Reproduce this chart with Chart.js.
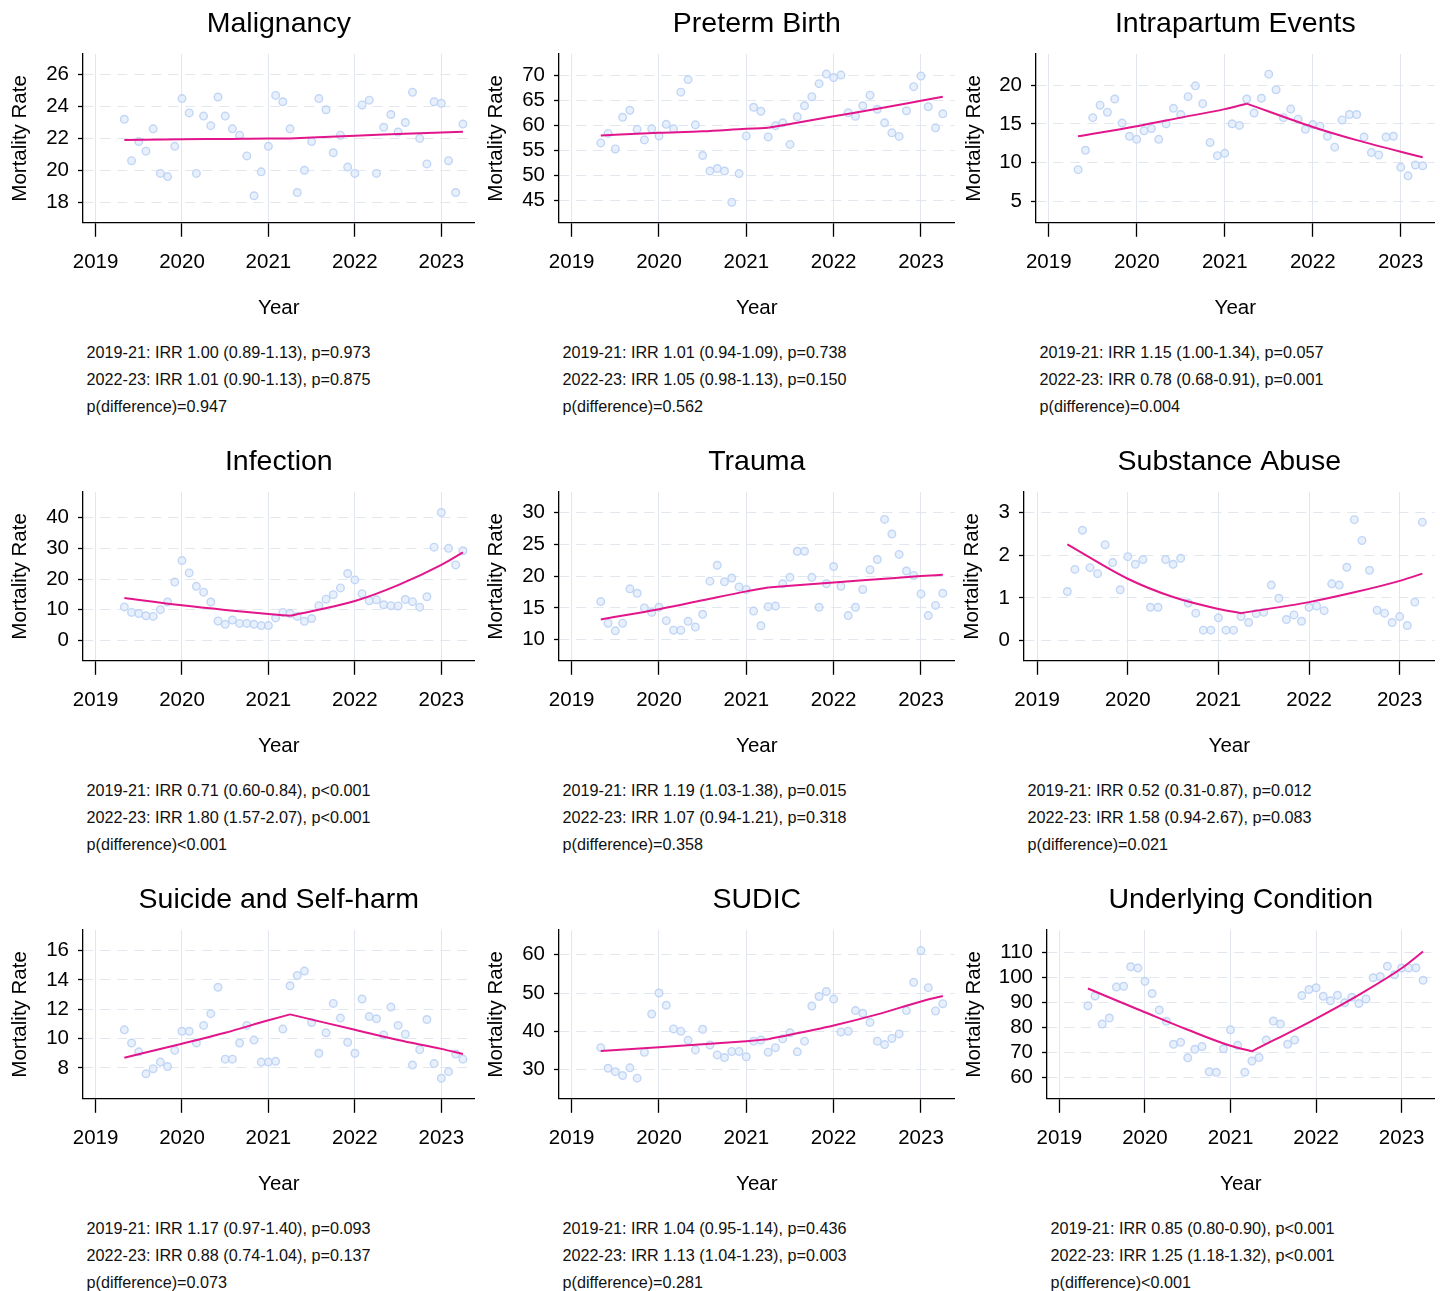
<!DOCTYPE html>
<html>
<head>
<meta charset="utf-8">
<script src="https://cdn.jsdelivr.net/npm/chart.js@4.4.1/dist/chart.umd.min.js"></script>
<style>
html,body{margin:0;padding:0;background:#fff;}
#wrap{position:relative;width:1440px;height:1291px;overflow:hidden;background:#fff;}
#wrap canvas{position:absolute;}
.note{position:absolute;font-family:"Liberation Sans",Arial,sans-serif;font-size:16.2px;line-height:27px;color:#111;white-space:nowrap;}
</style>
</head>
<body>
<div id="wrap"></div>
<script>
// ---------- categories ----------
const months = [
  "2019-05","2019-06","2019-07","2019-08","2019-09","2019-10","2019-11","2019-12",
  "2020-01","2020-02","2020-03","2020-04","2020-05","2020-06","2020-07","2020-08","2020-09","2020-10","2020-11","2020-12",
  "2021-01","2021-02","2021-03","2021-04","2021-05","2021-06","2021-07","2021-08","2021-09","2021-10","2021-11","2021-12",
  "2022-01","2022-02","2022-03","2022-04","2022-05","2022-06","2022-07","2022-08","2022-09","2022-10","2022-11","2022-12",
  "2023-01","2023-02","2023-03","2023-04"
];
const xTicks = [2019, 2020, 2021, 2022, 2023];
const fitMonthsBefore = ["2019-05","2020-01","2020-07","2021-01","2021-04"];
const fitMonthsAfter  = ["2021-04","2022-01","2022-07","2023-01","2023-04"];

// ---------- Malignancy ----------
const malignancy = [23.2,20.6,21.8,21.2,22.6,19.8,19.6,21.5,24.5,23.6,19.8,23.4,22.8,24.6,23.4,22.6,22.2,20.9,18.4,19.9,21.5,24.7,24.3,22.6,18.6,20.0,21.8,24.5,23.8,21.1,22.2,20.2,19.8,24.1,24.4,19.8,22.7,23.5,22.4,23.0,24.9,22.0,20.4,24.3,24.2,20.6,18.6,22.9];
const malignancyFitBefore = [21.9,21.95,21.97,22.0,22.0];
const malignancyFitAfter  = [22.0,22.17,22.27,22.37,22.42];
const malignancyYTicks = [18,20,22,24,26];
const malignancyYRange = [16.7,27.3];
const malignancyNotes = ["2019-21: IRR 1.00 (0.89-1.13), p=0.973","2022-23: IRR 1.01 (0.90-1.13), p=0.875","p(difference)=0.947"];

// ---------- Preterm Birth ----------
const preterm = [56.5,58.4,55.3,61.6,63.0,59.2,57.1,59.3,57.9,60.2,59.3,66.6,69.1,60.1,54.0,50.9,51.4,50.9,44.7,50.4,57.9,63.6,62.8,57.7,59.9,60.5,56.2,61.7,63.9,65.7,68.3,70.2,69.5,70.0,62.5,61.8,63.9,66.0,63.2,60.5,58.5,57.8,62.9,67.7,69.8,63.7,59.5,62.3];
const pretermFitBefore = [58.0,58.5,58.8,59.3,59.5];
const pretermFitAfter  = [59.5,61.8,63.3,64.9,65.7];
const pretermYTicks = [45,50,55,60,65,70];
const pretermYRange = [40.6,74.2];
const pretermNotes = ["2019-21: IRR 1.01 (0.94-1.09), p=0.738","2022-23: IRR 1.05 (0.98-1.13), p=0.150","p(difference)=0.562"];

// ---------- Intrapartum Events ----------
const intrapartum = [9.1,11.6,15.8,17.4,16.5,18.2,15.1,13.4,13.0,14.1,14.4,13.0,15.0,17.0,16.2,18.5,19.9,17.6,12.6,10.9,11.2,15.0,14.8,18.2,16.4,18.3,21.4,19.4,15.8,16.9,15.6,14.3,14.9,14.7,13.4,12.0,15.5,16.2,16.2,13.3,11.3,11.0,13.3,13.4,9.4,8.3,9.7,9.6];
const intrapartumFitBefore = [13.4,14.7,15.8,16.9,17.6];
const intrapartumFitAfter  = [17.6,14.6,12.9,11.4,10.7];
const intrapartumYTicks = [5,10,15,20];
const intrapartumYRange = [2.25,24.0];
const intrapartumNotes = ["2019-21: IRR 1.15 (1.00-1.34), p=0.057","2022-23: IRR 0.78 (0.68-0.91), p=0.001","p(difference)=0.004"];

// ---------- Infection ----------
const infection = [10.9,9.1,8.7,8.0,7.8,10.0,12.5,19.0,26.0,22.0,17.6,15.7,12.5,6.3,5.2,6.6,5.5,5.5,5.2,4.8,4.8,7.3,9.1,8.7,7.8,6.2,7.1,11.3,13.4,14.9,17.1,21.8,19.7,15.2,12.9,13.2,11.6,11.3,11.2,13.3,12.6,10.8,14.2,30.4,41.7,30.0,24.6,29.2];
const infectionFitBefore = [13.8,11.4,9.9,8.6,8.0];
const infectionFitAfter  = [8.0,12.8,18.0,24.6,28.7];
const infectionYTicks = [0,10,20,30,40];
const infectionYRange = [-6.7,48.4];
const infectionNotes = ["2019-21: IRR 0.71 (0.60-0.84), p<0.001","2022-23: IRR 1.80 (1.57-2.07), p<0.001","p(difference)<0.001"];

// ---------- Trauma ----------
const trauma = [16.0,12.6,11.4,12.6,18.0,17.3,15.0,14.3,15.1,13.0,11.5,11.5,12.9,12.0,14.0,19.2,21.7,19.1,19.7,18.3,17.9,14.5,12.2,15.2,15.3,18.8,19.8,23.9,23.9,19.8,15.1,18.8,21.5,18.4,13.8,15.1,17.9,21.0,22.6,28.9,26.6,23.4,20.8,20.1,17.2,13.8,15.4,17.3];
const traumaFitBefore = [13.2,14.8,16.2,17.6,18.2];
const traumaFitAfter  = [18.2,19.0,19.5,20.0,20.2];
const traumaYTicks = [10,15,20,25,30];
const traumaYRange = [6.7,33.2];
const traumaNotes = ["2019-21: IRR 1.19 (1.03-1.38), p=0.015","2022-23: IRR 1.07 (0.94-1.21), p=0.318","p(difference)=0.358"];

// ---------- Substance Abuse ----------
const substance = [1.15,1.67,2.59,1.71,1.57,2.25,1.83,1.19,1.97,1.79,1.90,0.78,0.78,1.90,1.79,1.93,0.88,0.64,0.24,0.24,0.53,0.24,0.24,0.56,0.42,0.63,0.66,1.30,0.99,0.49,0.60,0.45,0.78,0.81,0.70,1.33,1.30,1.72,2.84,2.35,1.65,0.71,0.64,0.42,0.56,0.35,0.90,2.78];
const substanceFitBefore = [2.26,1.45,1.02,0.74,0.64];
const substanceFitAfter  = [0.64,0.90,1.13,1.40,1.57];
const substanceYTicks = [0,1,2,3];
const substanceYRange = [-0.48,3.49];
const substanceNotes = ["2019-21: IRR 0.52 (0.31-0.87), p=0.012","2022-23: IRR 1.58 (0.94-2.67), p=0.083","p(difference)=0.021"];

// ---------- Suicide and Self-harm ----------
const suicide = [10.6,9.7,9.1,7.6,7.95,8.4,8.1,9.2,10.5,10.5,9.7,10.9,11.7,13.5,8.6,8.6,9.7,10.9,9.9,8.4,8.4,8.45,10.65,13.6,14.3,14.6,11.1,9.0,10.4,12.4,11.4,9.75,9.0,12.7,11.5,11.35,10.25,12.15,10.9,10.3,8.2,9.25,11.3,8.3,7.3,7.75,8.95,8.6];
const suicideFitBefore = [8.7,9.65,10.4,11.25,11.65];
const suicideFitAfter  = [11.65,10.6,9.9,9.3,8.95];
const suicideYTicks = [8,10,12,14,16];
const suicideYRange = [5.9,17.4];
const suicideNotes = ["2019-21: IRR 1.17 (0.97-1.40), p=0.093","2022-23: IRR 0.88 (0.74-1.04), p=0.137","p(difference)=0.073"];

// ---------- SUDIC ----------
const sudic = [35.7,30.3,29.4,28.4,30.4,27.7,34.5,44.5,50.0,46.8,40.6,40.0,37.6,35.1,40.5,36.4,33.8,33.1,34.7,34.7,33.3,37.4,37.7,34.5,35.7,38.0,39.6,34.6,37.4,46.6,49.1,50.4,48.4,39.8,40.0,45.4,44.7,42.3,37.4,36.5,38.1,39.3,45.4,52.8,61.1,51.4,45.3,47.2];
const sudicFitBefore = [34.8,35.8,36.6,37.4,37.9];
const sudicFitAfter  = [37.9,41.5,44.4,47.8,49.2];
const sudicYTicks = [30,40,50,60];
const sudicYRange = [22.3,66.5];
const sudicNotes = ["2019-21: IRR 1.04 (0.95-1.14), p=0.436","2022-23: IRR 1.13 (1.04-1.23), p=0.003","p(difference)=0.281"];

// ---------- Underlying Condition ----------
const underlying = [88.6,92.5,81.3,83.7,96.1,96.4,104.2,103.7,98.4,93.5,86.9,82.4,73.2,74.0,67.8,71.2,72.3,62.2,62.0,71.4,79.0,72.8,62.0,66.5,67.9,74.9,82.5,81.3,73.2,74.9,92.7,95.1,95.8,92.4,90.6,92.8,89.8,92.0,89.5,91.3,99.8,100.3,104.4,101.0,103.7,103.7,103.8,98.8];
const underlyingFitBefore = [95.5,86.0,79.0,72.6,70.4];
const underlyingFitAfter  = [70.4,83.5,93.0,103.6,110.3];
const underlyingYTicks = [60,70,80,90,100,110];
const underlyingYRange = [51.4,118.9];
const underlyingNotes = ["2019-21: IRR 0.85 (0.80-0.90), p<0.001","2022-23: IRR 1.25 (1.18-1.32), p<0.001","p(difference)<0.001"];

// ---------- panel table (built from the arrays above) ----------
const panels = [
  {title:"Malignancy", obs:malignancy, fb:malignancyFitBefore, fa:malignancyFitAfter, yt:malignancyYTicks, yr:malignancyYRange, notes:malignancyNotes},
  {title:"Preterm Birth", obs:preterm, fb:pretermFitBefore, fa:pretermFitAfter, yt:pretermYTicks, yr:pretermYRange, notes:pretermNotes},
  {title:"Intrapartum Events", obs:intrapartum, fb:intrapartumFitBefore, fa:intrapartumFitAfter, yt:intrapartumYTicks, yr:intrapartumYRange, notes:intrapartumNotes},
  {title:"Infection", obs:infection, fb:infectionFitBefore, fa:infectionFitAfter, yt:infectionYTicks, yr:infectionYRange, notes:infectionNotes},
  {title:"Trauma", obs:trauma, fb:traumaFitBefore, fa:traumaFitAfter, yt:traumaYTicks, yr:traumaYRange, notes:traumaNotes},
  {title:"Substance Abuse", obs:substance, fb:substanceFitBefore, fa:substanceFitAfter, yt:substanceYTicks, yr:substanceYRange, notes:substanceNotes},
  {title:"Suicide and Self-harm", obs:suicide, fb:suicideFitBefore, fa:suicideFitAfter, yt:suicideYTicks, yr:suicideYRange, notes:suicideNotes},
  {title:"SUDIC", obs:sudic, fb:sudicFitBefore, fa:sudicFitAfter, yt:sudicYTicks, yr:sudicYRange, notes:sudicNotes},
  {title:"Underlying Condition", obs:underlying, fb:underlyingFitBefore, fa:underlyingFitAfter, yt:underlyingYTicks, yr:underlyingYRange, notes:underlyingNotes}
];

// layout only (pixel positions of y axis and its title per panel)
const axisLayout = [
  {left:83, titleC:20},{left:79, titleC:16},{left:76, titleC:14},
  {left:83, titleC:20},{left:79, titleC:16},{left:64, titleC:12.5},
  {left:83, titleC:20},{left:79, titleC:16},{left:87, titleC:14}
];

const FONT = '"Liberation Sans", Arial, Helvetica, sans-serif';
const PINK = '#e2168a';
const GRID = '#e2e6ee';
const COL_W = 480, ROW_H = 438, CANVAS_H = 330;

function toYear(m){ const p = m.split('-'); return Number(p[0]) + (Number(p[1]) - 1) / 12; }

Chart.defaults.font.family = FONT;
Chart.defaults.color = '#000';

const wrap = document.getElementById('wrap');

panels.forEach((p, i) => {
  const col = i % 3, row = Math.floor(i / 3);
  const lay = axisLayout[i];
  const cv = document.createElement('canvas');
  cv.width = COL_W; cv.height = CANVAS_H;
  cv.style.left = (col * COL_W) + 'px';
  cv.style.top = (row * ROW_H) + 'px';
  cv.style.width = COL_W + 'px'; cv.style.height = CANVAS_H + 'px';
  wrap.appendChild(cv);

  const obsData = months.map((m, k) => ({x: toYear(m), y: p.obs[k]}));
  const fbData = fitMonthsBefore.map((m, k) => ({x: toYear(m), y: p.fb[k]}));
  const faData = fitMonthsAfter.map((m, k) => ({x: toYear(m), y: p.fa[k]}));

  const lineDs = d => ({
    data: d, showLine: true, borderColor: PINK, borderWidth: 2, pointRadius: 0,
    fill: false, cubicInterpolationMode: 'monotone', order: 0
  });

  const chart = new Chart(cv, {
    type: 'scatter',
    data: {
      datasets: [
        lineDs(fbData),
        lineDs(faData),
        {
          data: obsData, showLine: false, order: 1,
          pointRadius: 3.8, pointBorderWidth: 1.4,
          pointBorderColor: 'rgba(185,208,245,0.85)',
          pointBackgroundColor: 'rgba(222,233,251,0.7)'
        }
      ]
    },
    options: {
      responsive: false, animation: false, devicePixelRatio: 1,
      layout: {padding: {left: 0, right: 4, top: 0, bottom: 0}},
      plugins: {
        legend: {display: false},
        tooltip: {enabled: false},
        title: {
          display: true, text: p.title, fullSize: false, color: '#000',
          font: {size: 28.5, weight: 'normal', family: FONT, lineHeight: 1.2},
          padding: {top: 7, bottom: 12.8}
        }
      },
      scales: {
        x: {
          type: 'linear', position: 'bottom', min: 2018.855, max: 2023.385,
          afterBuildTicks: s => { s.ticks = xTicks.map(v => ({value: v})); },
          ticks: {color: '#000', font: {size: 20.5, family: FONT, lineHeight: 1.2}, padding: 13,
                  autoSkip: false, maxRotation: 0, callback: v => String(v)},
          grid: {color: GRID, lineWidth: 1, tickLength: 14, tickColor: '#000', tickWidth: 1.3},
          border: {color: '#000', width: 1.3},
          title: {display: true, text: 'Year', color: '#000',
                  font: {size: 20.5, family: FONT, lineHeight: 1.2}, padding: {top: 9, bottom: 9}}
        },
        y: {
          type: 'linear', position: 'left', min: p.yr[0], max: p.yr[1],
          afterBuildTicks: s => { s.ticks = p.yt.map(v => ({value: v})); },
          afterFit: s => { s.width = lay.left; },
          ticks: {color: '#000', font: {size: 20.5, family: FONT, lineHeight: 1.2}, padding: 9,
                  autoSkip: false, callback: v => String(v)},
          grid: {color: GRID, lineWidth: 1, tickLength: 5, tickColor: '#000', tickWidth: 1.3},
          border: {color: '#000', width: 1.3, dash: [10, 7]},
          title: {display: true, text: 'Mortality Rate', color: '#000',
                  font: {size: 20.5, family: FONT, lineHeight: 1.2},
                  padding: {top: Math.max(lay.titleC - 12, 0), bottom: 0}}
        }
      }
    }
  });

  const note = document.createElement('div');
  note.className = 'note';
  note.style.left = (col * COL_W + chart.chartArea.left + 3.5) + 'px';
  note.style.top = (row * ROW_H + 338.5) + 'px';
  p.notes.forEach(t => { const d = document.createElement('div'); d.textContent = t; note.appendChild(d); });
  wrap.appendChild(note);
});
</script>
</body>
</html>
